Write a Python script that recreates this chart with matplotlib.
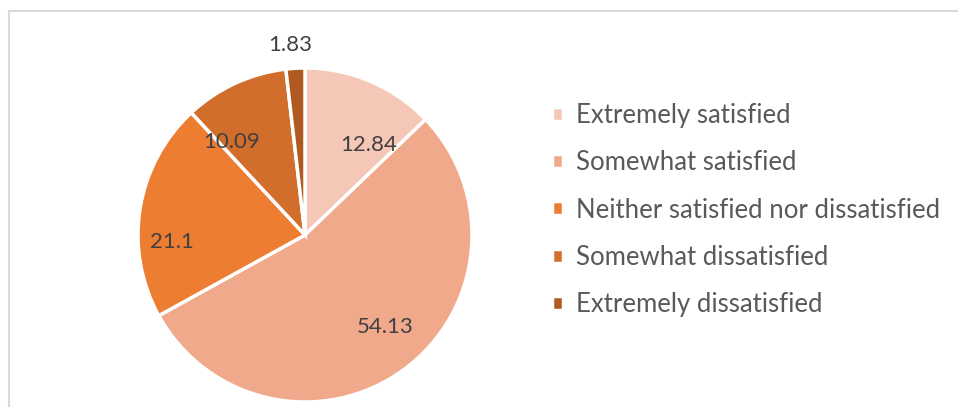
import numpy as np
import matplotlib.pyplot as plt
from matplotlib.patches import Rectangle

plt.rcParams['font.family'] = ['Lato', 'DejaVu Sans']

categories = ['Extremely satisfied', 'Somewhat satisfied',
              'Neither satisfied nor dissatisfied', 'Somewhat dissatisfied',
              'Extremely dissatisfied']
values = [12.84, 54.13, 21.1, 10.09, 1.83]
value_labels = ['12.84', '54.13', '21.1', '10.09', '1.83']
colors = ['#F4C7B6', '#F0A98A', '#ED7D31', '#D26E2B', '#B05A22']

# where the value labels sit (fraction of radius, angle in degrees)
label_r = [0.66, 0.73, 0.80, 0.71, 1.14]
label_ang = [55, -49, 183, 128, 94.5]

W, H = 958, 407
fig = plt.figure(figsize=(W / 100, H / 100), dpi=100)

# chart area frame
fig.patches.append(Rectangle((9 / W, -0.05), 1.1, (H - 11) / H + 0.05,
                             transform=fig.transFigure, fill=False,
                             edgecolor='#D9D9D9', linewidth=1.5))

ax = fig.add_axes([138 / W, 5 / H, 334 / W, 334 / H])
wedges, _ = ax.pie(values, colors=colors, startangle=90, counterclock=False,
                   radius=1, wedgeprops=dict(edgecolor='white', linewidth=2.5))
ax.set_xlim(-1, 1)
ax.set_ylim(-1, 1)
ax.set_aspect('auto')
ax.axis('off')

for txt, r, a in zip(value_labels, label_r, label_ang):
    t = np.deg2rad(a)
    ax.text(r * np.cos(t), r * np.sin(t), txt, ha='center', va='center',
            fontsize=16, color='#404040', clip_on=False)

leg = ax.legend(wedges, categories, loc='upper left',
                bbox_to_anchor=(539 / W, 1 - 90 / H), bbox_transform=fig.transFigure,
                frameon=False, fontsize=18.5, labelcolor='#595959',
                handlelength=0.45, handleheight=0.45, handletextpad=0.5,
                labelspacing=0.87, borderpad=0)

fig.savefig('out.png', dpi=100, facecolor='white')
